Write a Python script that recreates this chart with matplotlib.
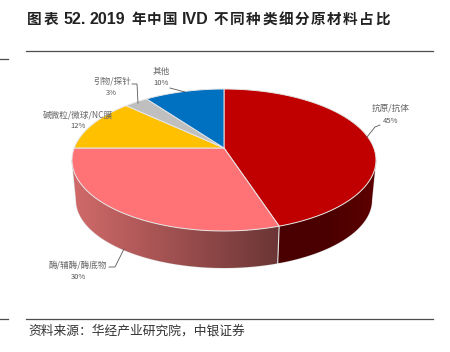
import numpy as np
import matplotlib
matplotlib.use('Agg')
import matplotlib.pyplot as plt
from matplotlib.colors import LinearSegmentedColormap
from matplotlib.patches import Polygon

plt.rcParams['font.family'] = ['Noto Sans CJK SC', 'DejaVu Sans']

names = ['抗原/抗体', '酶/辅酶/酶底物', '碱微粒/微球/NC膜', '引物/探针', '其他']
values = [45, 30, 12, 3, 10]
colors = ['#C00000', '#FF7276', '#FFC000', '#BFBFBF', '#0070C0']
title_cn = '不同种类细分原材料占比'
source = '资料来源：华经产业研究院，中银证券'

# pie geometry in pixels, the apex sits above the ellipse centre (perspective)
cx, cy = 224, 160
rx, ry = 152, 71
rx2, ry2, cy2 = 148, 68, 200
c = 12 / 71
edge = '#E6E6E6'
label_color = '#666666'
title_color = '#222222'


def project(theta, a, b, y0):
    # theta in degrees clockwise from the top
    t = np.radians(theta)
    x, y = np.sin(t), np.cos(t)
    d = 1 + c * y
    return cx + a * x * np.sqrt(1 - c ** 2) / d, y0 - b * (y + c) / d


def arc(t0, t1, a=rx, b=ry, y0=cy):
    ts = np.linspace(t0, t1, 80)
    return np.column_stack(project(ts, a, b, y0))


def spaced(x, y, s, pitch, **kw):
    # one character at a time, the report uses wide tracking
    for i, ch in enumerate(s):
        ax.text(x + i * pitch, y, ch, va='center', color=title_color, **kw)


fig = plt.figure(figsize=(4.5, 3.52), dpi=100)
ax = fig.add_axes([0, 0, 1, 1])
ax.set_xlim(0, 450)
ax.set_ylim(352, 0)
ax.axis('off')

apex = (cx, cy - ry * c)
angles = np.concatenate([[0], np.cumsum(values) / np.sum(values) * 360])

# front wall
side_start = np.degrees(np.arccos(-c))
side_end = 360 - side_start
side_parts = [
    (side_start, angles[1], ['#4A0000', '#4A0000', '#5E0000']),
    (angles[1], side_end, ['#D26A6A', '#6B3535']),
]
for t0, t1, cols in side_parts:
    pts = np.vstack([arc(t0, t1), arc(t1, t0, rx2, ry2, cy2)])
    poly = Polygon(pts, closed=True, fc='none', ec='none')
    ax.add_patch(poly)
    ax.add_patch(Polygon(pts, closed=True, fc='none', ec='#DDDDDD', lw=0.8, zorder=0.5))
    cmap = LinearSegmentedColormap.from_list('side', cols)
    im = ax.imshow(np.linspace(0, 1, 256).reshape(1, -1), cmap=cmap, aspect='auto',
                   extent=[pts[:, 0].min(), pts[:, 0].max(), pts[:, 1].max(), pts[:, 1].min()],
                   zorder=1)
    im.set_clip_path(poly)
ax.set_xlim(0, 450)
ax.set_ylim(352, 0)
ax.plot(*np.column_stack([project(angles[1], rx, ry, cy), project(angles[1], rx2, ry2, cy2)]),
        color=edge, lw=0.8, zorder=2)

# top face
for i, col in enumerate(colors):
    pts = np.vstack([[apex], arc(angles[i], angles[i + 1])])
    ax.add_patch(Polygon(pts, closed=True, fc=col, ec=edge, lw=0.7, zorder=3))

# labels
label_pos = [(391, 108, 391, 121), (78, 265, 78, 277), (78, 115, 78, 126),
             (112, 81, 111, 93), (161, 71, 161, 83)]
for name, v, (x1, y1, x2, y2) in zip(names, values, label_pos):
    ax.text(x1, y1, name, fontsize=6.2, color=label_color, ha='center', va='center', zorder=5)
    ax.text(x2, y2, '%d%%' % v, fontsize=5.5, color='#555555', ha='center', va='center', zorder=5)

leaders = [([380, 375, 367], [125, 127, 137]),
           ([109, 115, 124], [267, 267, 249]),
           ([132, 137, 138], [84, 84, 103]),
           ([170, 185], [88, 92])]
for xs, ys in leaders:
    ax.plot(xs, ys, color='#595959', lw=0.6, zorder=4)

# title
latin = dict(fontsize=11.5, fontweight='bold', family='Liberation Sans', color=title_color, va='center')
spaced(27, 19, '图表', 17, fontsize=10.5, fontweight='bold')
ax.text(63, 19, '52.', **latin)
ax.text(90, 19, '2019', **latin)
spaced(131, 19, '年中国', 16, fontsize=10.5, fontweight='bold')
ax.text(182, 19, 'IVD', **latin)
spaced(214, 19, title_cn, 16.1, fontsize=10.5, fontweight='bold')

# rules
for y in [51, 319]:
    ax.plot([26, 433], [y, y], color='#4D4D4D', lw=0.9)
for y in [59, 319]:
    ax.plot([0, 8], [y, y], color='#4D4D4D', lw=0.9)

ax.text(28, 331, source, fontsize=9.2, color='#333333', va='center')

fig.savefig('out.png', dpi=100)
